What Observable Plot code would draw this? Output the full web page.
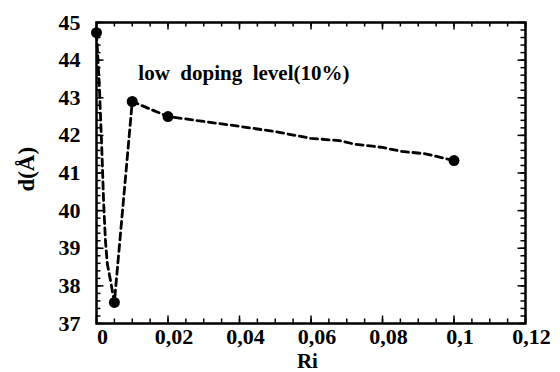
<!DOCTYPE html>
<html>
<head>
<meta charset="utf-8">
<script src="https://cdn.jsdelivr.net/npm/d3@7"></script>
<script src="https://cdn.jsdelivr.net/npm/@observablehq/plot@0.6"></script>
<style>
  html, body { margin: 0; padding: 0; background: #fff; }
  svg { display: block; }
</style>
</head>
<body>
<div id="chart"></div>
<script>
// measured points (markers)
const pointRi = [0, 0.005, 0.01, 0.02, 0.1];
const pointD  = [44.73, 37.56, 42.9, 42.5, 41.33];
// dashed guide curve
const curveRi = [0, 0.0008, 0.0015, 0.002, 0.0025, 0.003, 0.004, 0.005, 0.01, 0.02, 0.03, 0.04, 0.05, 0.06, 0.068, 0.072, 0.08, 0.085, 0.092, 0.1];
const curveD  = [44.73, 43.3, 41.6, 40.2, 39.2, 38.6, 38.1, 37.56, 42.9, 42.5, 42.37, 42.24, 42.1, 41.92, 41.86, 41.77, 41.68, 41.58, 41.51, 41.33];
const xTicks = [0, 0.02, 0.04, 0.06, 0.08, 0.1, 0.12];
const xTickLabels = ["0", "0,02", "0,04", "0,06", "0,08", "0,1", "0,12"];
const yTicks = [37, 38, 39, 40, 41, 42, 43, 44, 45];
const yTickLabels = ["37", "38", "39", "40", "41", "42", "43", "44", "45"];
const xMinor = d3.range(0, 0.12001, 0.005);
const yMinor = d3.range(37, 45.001, 0.2);
const annotation = "low\u2002doping\u2002level(10%)";

const points = pointRi.map((x, i) => ({x, y: pointD[i]}));
const curve = curveRi.map((x, i) => ({x, y: curveD[i]}));
const font = "Liberation Serif";

const W = 560, H = 372, mL = 96, mR = 35, mT = 22, mB = 49;
const innerW = W - mL - mR, innerH = H - mT - mB;
const minorLen = 4.5, majorLen = 7.5;

const plot = Plot.plot({
  width: W,
  height: H,
  marginLeft: mL,
  marginRight: mR,
  marginTop: mT,
  marginBottom: mB,
  style: {fontFamily: font, fontWeight: "bold", fontSize: "22px", color: "black", background: "white"},
  x: {domain: [0, 0.12]},
  y: {domain: [37, 45]},
  marks: [
    // inward ticks
    Plot.ruleX(xMinor, {x: d => d, insetTop: innerH - minorLen, stroke: "black", strokeWidth: 1.5}),
    Plot.ruleX(xMinor, {x: d => d, insetBottom: innerH - minorLen, stroke: "black", strokeWidth: 1.5}),
    Plot.ruleX(xTicks, {x: d => d, insetTop: innerH - majorLen, stroke: "black", strokeWidth: 1.5}),
    Plot.ruleX(xTicks, {x: d => d, insetBottom: innerH - majorLen, stroke: "black", strokeWidth: 1.5}),
    Plot.ruleY(yMinor, {y: d => d, insetRight: innerW - minorLen, stroke: "black", strokeWidth: 1.5}),
    Plot.ruleY(yMinor, {y: d => d, insetLeft: innerW - minorLen, stroke: "black", strokeWidth: 1.5}),
    Plot.ruleY(yTicks, {y: d => d, insetRight: innerW - majorLen, stroke: "black", strokeWidth: 1.5}),
    Plot.ruleY(yTicks, {y: d => d, insetLeft: innerW - majorLen, stroke: "black", strokeWidth: 1.5}),
    // labels
    Plot.axisX(xTicks, {anchor: "bottom", tickSize: 0, tickPadding: 5, dx: 6,
      tickFormat: (d, i) => xTickLabels[i], label: null, fontSize: 22, fontWeight: "bold", fontFamily: font}),
    Plot.axisY(yTicks, {anchor: "left", tickSize: 0, tickPadding: 16,
      tickFormat: (d, i) => yTickLabels[i], label: null, fontSize: 22, fontWeight: "bold", fontFamily: font}),
    Plot.frame({stroke: "black", strokeWidth: 2.5}),
    Plot.line(curve, {x: "x", y: "y", stroke: "black", strokeWidth: 2.8, strokeDasharray: "7,4.5"}),
    Plot.dot(points, {x: "x", y: "y", r: 5.5, fill: "black", stroke: "none"}),
    Plot.text([annotation], {x: () => 0.0117, y: () => 43.64, text: d => d, textAnchor: "start",
      fontSize: 21, fontWeight: "bold", fontFamily: font}),
    Plot.text(["Ri"], {x: () => 0.059, y: () => 37, dy: 38, text: d => d, fontSize: 21, fontWeight: "bold", fontFamily: font}),
    Plot.text(["d(Å)"], {x: () => 0, y: () => 41.1, dx: -70, rotate: -90, text: d => d, fontSize: 23, fontWeight: "bold", fontFamily: font})
  ]
});
d3.select(plot).selectAll("text, g")
  .attr("font-family", "Liberation Serif")
  .style("font-family", "'Liberation Serif', serif")
  .style("font-weight", "bold");
document.getElementById("chart").appendChild(plot);
</script>
</body>
</html>
